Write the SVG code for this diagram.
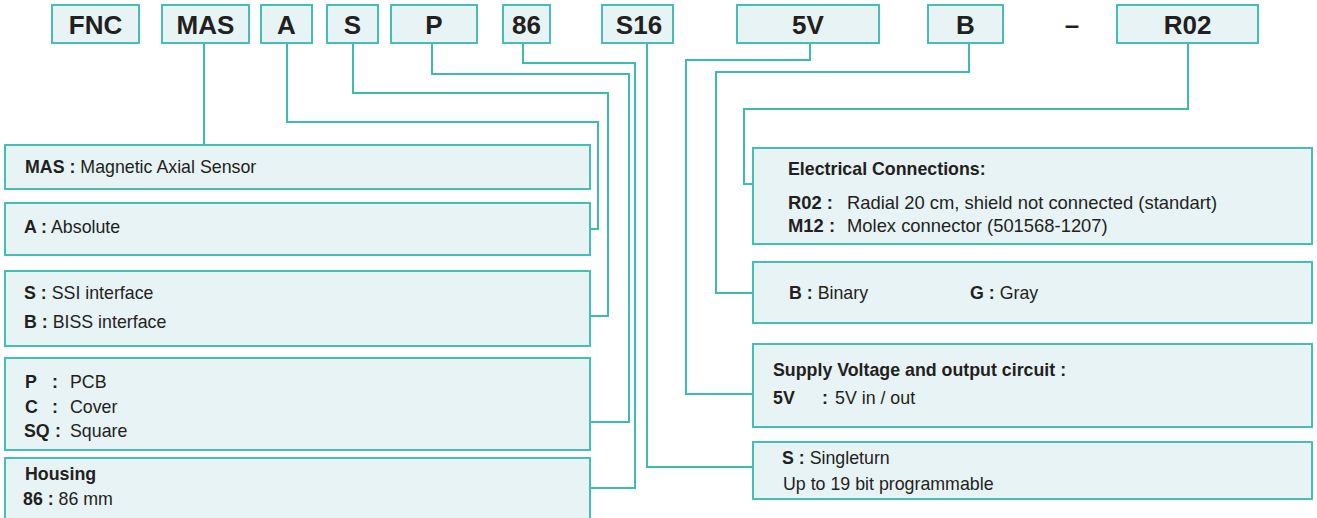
<svg xmlns="http://www.w3.org/2000/svg" width="1317" height="518" viewBox="0 0 1317 518">
<style>
  .box { fill: #e7f3f5; stroke: #45bfb2; stroke-width: 2; }
  .con { fill: none; stroke: #3dbbae; stroke-width: 2; }
  text { font-family: "Liberation Sans", Arial, sans-serif; fill: #231f20; }
  .code { font-size: 26px; font-weight: bold; text-anchor: middle; }
  .t { font-size: 17.8px; }
  .e { font-size: 18.4px; }
  .b { font-weight: bold; }
</style>
<rect width="1317" height="518" fill="#ffffff"/>

<g id="connectors">
  <path class="con" d="M204,43 V145"/>
  <path class="con" d="M287,43 V122 H598 V229 H590"/>
  <path class="con" d="M353,43 V93 H608 V316 H590"/>
  <path class="con" d="M432,43 V74 H629 V422 H590"/>
  <path class="con" d="M523,43 V63 H635 V488 H590"/>
  <path class="con" d="M647,43 V467 H753"/>
  <path class="con" d="M810,43 V60 H686 V394 H753"/>
  <path class="con" d="M969,43 V72 H716 V293 H753"/>
  <path class="con" d="M1188,43 V109 H744 V184 H753"/>
</g>

<g id="code-FNC"><rect class="box" x="52" y="5" width="87" height="38"/><text class="code" x="95.5" y="34">FNC</text></g>
<g id="code-MAS"><rect class="box" x="162" y="5" width="87" height="38"/><text class="code" x="205.5" y="34">MAS</text></g>
<g id="code-A"><rect class="box" x="261" y="5" width="51" height="38"/><text class="code" x="286.5" y="34">A</text></g>
<g id="code-S"><rect class="box" x="327" y="5" width="51" height="38"/><text class="code" x="352.5" y="34">S</text></g>
<g id="code-P"><rect class="box" x="391" y="5" width="86" height="38"/><text class="code" x="434" y="34">P</text></g>
<g id="code-86"><rect class="box" x="503" y="5" width="47" height="38"/><text class="code" x="526.5" y="34">86</text></g>
<g id="code-S16"><rect class="box" x="602" y="5" width="71" height="38"/><text class="code" x="639" y="34">S16</text></g>
<g id="code-5V"><rect class="box" x="737" y="5" width="142" height="38"/><text class="code" x="808" y="34">5V</text></g>
<g id="code-B"><rect class="box" x="928" y="5" width="75" height="38"/><text class="code" x="965.5" y="34">B</text></g>
<g id="dash"><text class="code" x="1072" y="34">–</text></g>
<g id="code-R02"><rect class="box" x="1117" y="5" width="141" height="38"/><text class="code" x="1187.5" y="34">R02</text></g>

<g id="desc-MAS"><rect class="box" x="5" y="145" width="585" height="44"/>
  <text class="t" x="25" y="173"><tspan class="b">MAS :</tspan> Magnetic Axial Sensor</text></g>
<g id="desc-A"><rect class="box" x="5" y="203" width="585" height="52"/>
  <text class="t" x="24" y="233"><tspan class="b">A :</tspan> Absolute</text></g>
<g id="desc-S"><rect class="box" x="5" y="271" width="585" height="75"/>
  <text class="t" x="24" y="299"><tspan class="b">S :</tspan> SSI interface</text>
  <text class="t" x="24" y="328"><tspan class="b">B :</tspan> BISS interface</text></g>
<g id="desc-P"><rect class="box" x="5" y="358" width="585" height="92"/>
  <text class="t b" x="25" y="388">P</text><text class="t b" x="52" y="388">:</text><text class="t" x="70" y="388">PCB</text>
  <text class="t b" x="25" y="413">C</text><text class="t b" x="52" y="413">:</text><text class="t" x="70" y="413">Cover</text>
  <text class="t b" x="24" y="437">SQ</text><text class="t b" x="55" y="437">:</text><text class="t" x="70" y="437">Square</text></g>
<g id="desc-86"><rect class="box" x="5" y="458" width="585" height="70"/>
  <text class="t b" x="25" y="480">Housing</text>
  <text class="t" x="23" y="505"><tspan class="b">86 :</tspan> 86 mm</text></g>

<g id="desc-R02"><rect class="box" x="753" y="148" width="559" height="96"/>
  <text class="t b" x="788" y="175">Electrical Connections:</text>
  <text class="e b" x="788" y="209">R02 :</text><text class="e" x="847" y="209">Radial 20 cm, shield not connected (standart)</text>
  <text class="e b" x="788" y="232">M12 :</text><text class="e" x="847" y="232">Molex connector (501568-1207)</text></g>
<g id="desc-B"><rect class="box" x="753" y="262" width="559" height="61"/>
  <text class="t" x="789" y="299"><tspan class="b">B :</tspan> Binary</text>
  <text class="t" x="970" y="299"><tspan class="b">G :</tspan> Gray</text></g>
<g id="desc-5V"><rect class="box" x="753" y="344" width="559" height="83"/>
  <text class="t b" x="773" y="376">Supply Voltage and output circuit :</text>
  <text class="t b" x="773" y="404">5V</text><text class="t b" x="822" y="404">:</text><text class="t" x="835" y="404">5V in / out</text></g>
<g id="desc-S16"><rect class="box" x="753" y="442" width="559" height="57"/>
  <text class="t" x="782" y="464"><tspan class="b">S :</tspan> Singleturn</text>
  <text class="t" x="783" y="490">Up to 19 bit programmable</text></g>
</svg>
